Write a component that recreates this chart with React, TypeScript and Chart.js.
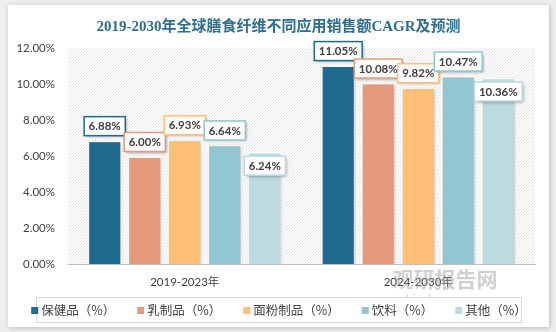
import React, { useEffect, useRef } from 'react';
import { Chart, registerables } from 'chart.js';

Chart.register(...registerables);

const chartTitle = '2019-2030年全球膳食纤维不同应用销售额CAGR及预测';
const categories = ['2019-2023年', '2024-2030年'];
const seriesNames = ['保健品（%）', '乳制品（%）', '面粉制品（%）', '饮料（%）', '其他（%）'];
const healthValues = [6.88, 11.05];
const dairyValues = [6.0, 10.08];
const flourValues = [6.93, 9.82];
const drinkValues = [6.64, 10.47];
const otherValues = [6.24, 10.36];
const yMin = 0;
const yMax = 12;
const yStep = 2;
const watermarkMain = '观研报告网';
const watermarkSub = 'chinabaogao.com';

const seriesColors = ['#1D6A8D', '#E79A7B', '#FEC074', '#92C6D0', '#BCDAE0'];
const seriesValues = [healthValues, dairyValues, flourValues, drinkValues, otherValues];

const CJK = "'Noto Sans CJK SC'";
const LATIN = "Lato, 'Noto Sans CJK SC', sans-serif";

function makeHatch(): CanvasPattern | string {
  const c = document.createElement('canvas');
  c.width = 3;
  c.height = 3;
  const g = c.getContext('2d');
  if (!g) return '#f4f4f4';
  g.fillStyle = '#ffffff';
  g.fillRect(0, 0, 3, 3);
  g.fillStyle = '#e6e6e6';
  g.fillRect(2, 0, 1, 1);
  g.fillRect(1, 1, 1, 1);
  g.fillRect(0, 2, 1, 1);
  const p = g.createPattern(c, 'repeat');
  return p || '#f4f4f4';
}

const decorPlugin = {
  id: 'decor',
  beforeDraw(chart: any) {
    const { ctx, chartArea } = chart;
    ctx.save();
    ctx.fillStyle = makeHatch();
    ctx.fillRect(chartArea.left, chartArea.top, chartArea.right - chartArea.left, chartArea.bottom - chartArea.top);
    ctx.restore();
    ctx.save();
    ctx.font = "bold 15px 'Liberation Serif', 'Noto Sans CJK SC', serif";
    ctx.fillStyle = '#2E6E8E';
    ctx.textAlign = 'center';
    ctx.textBaseline = 'middle';
    ctx.fillText(chartTitle, chart.width / 2, 22);
    ctx.restore();
  },
  beforeDatasetsDraw(chart: any) {
    const ctx = chart.ctx;
    ctx.save();
    ctx.shadowColor = 'rgba(0,0,0,0.28)';
    ctx.shadowBlur = 3;
    ctx.shadowOffsetX = 1;
    ctx.shadowOffsetY = 1;
  },
  afterDatasetsDraw(chart: any) {
    const ctx = chart.ctx;
    ctx.restore();
    chart.data.datasets.forEach((ds: any, i: number) => {
      const meta = chart.getDatasetMeta(i);
      meta.data.forEach((bar: any, j: number) => {
        const v = ds.data[j];
        const text = v.toFixed(2) + '%';
        ctx.save();
        ctx.font = `bold 11.5px ${LATIN}`;
        const w = ctx.measureText(text).width + 9;
        const h = 19;
        const cy = i === chart.data.datasets.length - 1 ? bar.y + 14 : bar.y - 14;
        const x0 = bar.x - w / 2;
        const y0 = cy - h / 2;
        ctx.shadowColor = 'rgba(0,0,0,0.35)';
        ctx.shadowBlur = 3;
        ctx.shadowOffsetX = 1.5;
        ctx.shadowOffsetY = 1.5;
        ctx.fillStyle = '#ffffff';
        ctx.fillRect(x0, y0, w, h);
        ctx.shadowColor = 'transparent';
        ctx.strokeStyle = ds.backgroundColor;
        ctx.lineWidth = 1.5;
        ctx.strokeRect(x0, y0, w, h);
        ctx.fillStyle = '#404040';
        ctx.textAlign = 'center';
        ctx.textBaseline = 'middle';
        ctx.fillText(text, bar.x, cy + 0.5);
        ctx.restore();
      });
    });
  },
  afterDraw(chart: any) {
    const ctx = chart.ctx;
    ctx.save();
    ctx.fillStyle = 'rgba(150,150,150,0.45)';
    ctx.textAlign = 'center';
    ctx.textBaseline = 'middle';
    ctx.font = `bold 21px ${CJK}`;
    ctx.fillText(watermarkMain, 437, 274);
    ctx.font = `12px ${LATIN}`;
    ctx.fillText(watermarkSub, 438, 294);
    ctx.restore();
    ctx.save();
    const bx = 28.5, by = 292.5, bw = 485, bh = 25;
    ctx.fillStyle = '#ffffff';
    ctx.fillRect(bx, by, bw, bh);
    ctx.strokeStyle = '#D9D9D9';
    ctx.lineWidth = 1;
    ctx.strokeRect(bx, by, bw, bh);
    ctx.font = `12.5px ${CJK}`;
    const gap = 22;
    const widths = seriesNames.map((n) => 10 + ctx.measureText(n).width);
    const total = widths.reduce((a, b) => a + b, 0) + gap * (widths.length - 1);
    let x = bx + bw / 2 - total / 2;
    const cy = by + bh / 2 + 0.5;
    seriesNames.forEach((n, i) => {
      ctx.fillStyle = seriesColors[i];
      ctx.fillRect(x, cy - 3.5, 7, 7);
      ctx.fillStyle = '#404040';
      ctx.textAlign = 'left';
      ctx.textBaseline = 'middle';
      ctx.fillText(n, x + 10, cy);
      x += widths[i] + gap;
    });
    ctx.restore();
  },
};

export default function App() {
  const ref = useRef<HTMLCanvasElement>(null);
  useEffect(() => {
    if (!ref.current) return;
    const chart = new Chart(ref.current, {
      type: 'bar',
      data: {
        labels: categories,
        datasets: seriesNames.map((name, i) => ({
          label: name,
          data: seriesValues[i],
          backgroundColor: seriesColors[i],
          borderColor: 'rgba(255,255,255,0.95)',
          borderWidth: 2,
          barPercentage: 0.875,
          categoryPercentage: 0.857,
        })),
      },
      options: {
        responsive: false,
        animation: false,
        devicePixelRatio: 1,
        layout: { padding: { top: 43, right: 14, bottom: 0, left: 0 } },
        plugins: {
          legend: { display: false },
          title: { display: false },
          tooltip: { enabled: false },
        },
        scales: {
          x: {
            grid: { display: false, drawTicks: false },
            border: { display: true, color: '#BFBFBF', width: 1 },
            ticks: { color: '#404040', font: { family: LATIN, size: 11.5 }, padding: 11 },
            afterFit(scale: any) {
              scale.height = 63;
            },
          },
          y: {
            min: yMin,
            max: yMax,
            grid: { display: false, drawTicks: false },
            border: { display: false },
            ticks: {
              stepSize: yStep,
              color: '#404040',
              font: { family: LATIN, size: 11.5 },
              padding: 13,
              callback: (v: any) => Number(v).toFixed(2) + '%',
            },
            afterFit(scale: any) {
              scale.width = 60;
            },
          },
        },
      },
      plugins: [decorPlugin],
    });
    return () => chart.destroy();
  }, []);
  return (
    <div style={{ position: 'fixed', left: 0, top: 0, width: 556, height: 332, background: '#EEEEEE' }}>
      <div
        style={{
          position: 'absolute',
          left: 8,
          top: 5,
          width: 541,
          height: 322,
          background: '#ffffff',
          boxShadow: '1px 1px 5px rgba(0,0,0,0.22)',
        }}
      >
        <canvas ref={ref} width={541} height={322} style={{ display: 'block', width: 541, height: 322 }} />
      </div>
    </div>
  );
}
